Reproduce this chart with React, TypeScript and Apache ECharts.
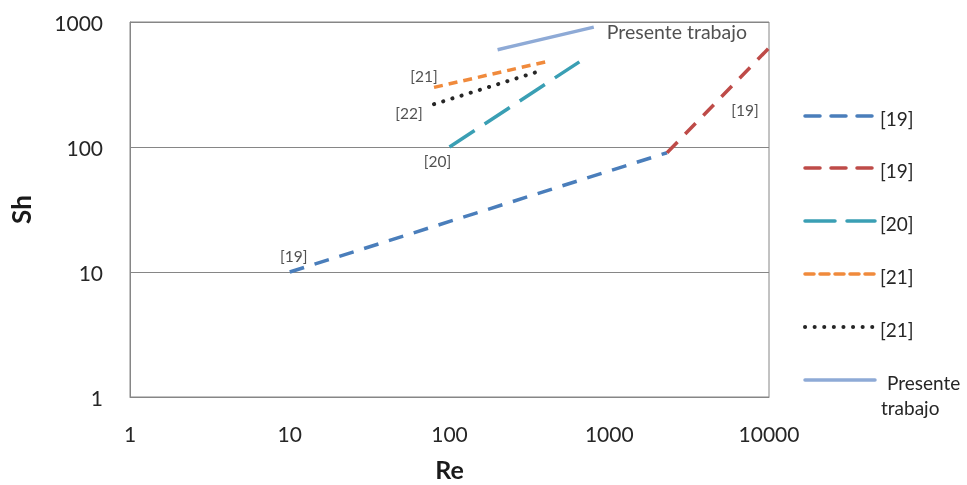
import React, { useEffect, useRef } from "react";
import * as echarts from "echarts";

const xTicks = [1, 10, 100, 1000, 10000];
const yTicks = [1, 10, 100, 1000];

const re19a = [10, 2300];
const sh19a = [10, 90];
const re19b = [2300, 10000];
const sh19b = [90, 620];
const re20 = [100, 650];
const sh20 = [100, 480];
const re21 = [80, 400];
const sh21 = [300, 480];
const re22 = [80, 390];
const sh22 = [220, 415];
const rePT = [200, 800];
const shPT = [600, 910];

const legendNames = ["[19]", "[19]", "[20]", "[21]", "[21]", "Presente\ntrabajo"];

const FONT = "Lato, 'Open Sans', sans-serif";

const zip = (a: number[], b: number[]) => a.map((v, i) => [v, b[i]]);

export default function App() {
  const ref = useRef<HTMLDivElement>(null);
  useEffect(() => {
    if (!ref.current) return;
    const chart = echarts.init(ref.current, undefined, { renderer: "svg" });
    const colors = ["#4A7EBB", "#BE4B48", "#3A9FB4", "#F08A3C", "#262626", "#8EAAD6"];
    const dashes: any[] = [[15, 11], [15, 11], [30, 12], [9, 6], [0.1, 9.5], "solid"];
    const widths = [3.5, 3.5, 3.5, 3.5, 4, 3.5];
    const datasets = [
      zip(re19a, sh19a),
      zip(re19b, sh19b),
      zip(re20, sh20),
      zip(re21, sh21),
      zip(re22, sh22),
      zip(rePT, shPT),
    ];
    const lineSeries = datasets.map((d, i) => ({
      type: "line",
      name: "s" + i,
      data: d,
      symbol: "none",
      silent: true,
      lineStyle: {
        color: colors[i],
        width: widths[i],
        type: dashes[i],
        cap: i === 4 ? "round" : "butt",
      },
    }));

    const notes = [
      { value: [re19a[0], sh19a[0]], text: "[19]", pos: [4, -16], size: 15.5, align: "center" },
      { value: [re20[0], sh20[0]], text: "[20]", pos: [-12, 14], size: 15.5, align: "center" },
      { value: [re21[0], sh21[0]], text: "[21]", pos: [-10, -11], size: 15.5, align: "center" },
      { value: [re22[0], sh22[0]], text: "[22]", pos: [-25, 9], size: 15.5, align: "center" },
      { value: [re19b[1], sh19b[1]], text: "[19]", pos: [-24, 62], size: 15.5, align: "center" },
      { value: [rePT[1], shPT[1]], text: "Presente trabajo", pos: [13, 4], size: 19.5, align: "left" },
    ];

    const noteLabelBase = {
      color: "#262626",
      textBorderWidth: 0,
      textBorderColor: "transparent",
      fontFamily: FONT,
    };

    const noteSeries = {
      type: "scatter",
      name: "notes",
      symbolSize: 0,
      silent: true,
      itemStyle: { color: "#262626" },
      label: { show: true, ...noteLabelBase },
      data: notes.map((n) => ({
        value: n.value,
        itemStyle: { color: "#262626" },
        label: {
          show: true,
          formatter: n.text,
          position: n.pos,
          align: n.align,
          verticalAlign: "middle",
          fontSize: n.size,
          ...noteLabelBase,
        },
      })),
    };

    const legendX = 805;
    const legendW = 70;
    const legendYs = [116, 168, 221, 274, 327, 380];
    const graphics: any[] = [];
    legendNames.forEach((name, i) => {
      graphics.push({
        type: "line",
        silent: true,
        shape: { x1: legendX, y1: legendYs[i], x2: legendX + legendW, y2: legendYs[i] },
        style: {
          stroke: colors[i],
          lineWidth: widths[i],
          lineDash: dashes[i] === "solid" ? null : dashes[i],
          lineCap: "round",
        },
      });
      const lines = name.split("\n");
      lines.forEach((t, j) => {
        graphics.push({
          type: "text",
          silent: true,
          x: j === 0 ? (lines.length > 1 ? 887 : 880) : 881,
          y: legendYs[i] + 2 + j * 25,
          style: {
            text: t,
            fontSize: 19,
            fontFamily: FONT,
            fill: "#262626",
            verticalAlign: "middle",
            align: "left",
          },
        });
      });
    });

    const plain = (v: number) => String(Math.round(v));

    chart.setOption({
      animation: false,
      grid: {
        left: 130,
        right: 198,
        top: 22,
        bottom: 88,
        show: true,
        borderColor: "#868686",
        borderWidth: 1,
        containLabel: false,
        outerBoundsMode: "none",
      },
      xAxis: {
        type: "log",
        logBase: 10,
        min: xTicks[0],
        max: xTicks[xTicks.length - 1],
        name: "Re",
        nameLocation: "middle",
        nameGap: 59,
        nameTextStyle: {
          fontSize: 25,
          lineHeight: 25,
          fontWeight: "bold",
          fontFamily: FONT,
          color: "#1a1a1a",
        },
        axisLine: { lineStyle: { color: "#868686" } },
        axisTick: { show: false },
        splitLine: { show: false },
        axisLabel: { fontSize: 21, fontFamily: FONT, color: "#262626", margin: 26, formatter: plain },
      },
      yAxis: {
        type: "log",
        logBase: 10,
        min: yTicks[0],
        max: yTicks[yTicks.length - 1],
        name: "Sh",
        nameLocation: "middle",
        nameGap: 96,
        nameRotate: 90,
        nameTextStyle: { fontSize: 26, fontWeight: "bold", fontFamily: FONT, color: "#1a1a1a" },
        axisLine: { show: true, lineStyle: { color: "#868686" } },
        axisTick: { show: false },
        splitLine: { show: true, lineStyle: { color: "#868686", width: 1 } },
        axisLabel: { fontSize: 21, fontFamily: FONT, color: "#262626", margin: 27, formatter: plain },
      },
      series: [...lineSeries, noteSeries],
      graphic: graphics,
    });
    return () => chart.dispose();
  }, []);
  return (
    <div
      ref={ref}
      style={{ position: "fixed", left: 0, top: 0, width: 967, height: 485 }}
    />
  );
}
